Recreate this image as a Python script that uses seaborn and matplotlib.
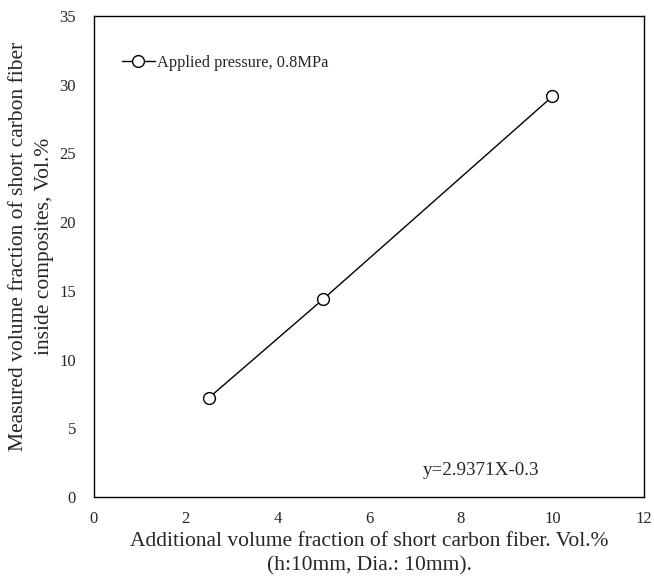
import pandas as pd
import matplotlib
matplotlib.use("Agg")
import matplotlib.pyplot as plt
import seaborn as sns

# datos
fraccion_agregada = [2.5, 5, 10]
fraccion_medida = [7.2, 14.4, 29.15]
etiqueta_serie = "Applied pressure, 0.8MPa"
ecuacion = "y=2.9371X-0.3"
x_ticks = [0, 2, 4, 6, 8, 10, 12]
y_ticks = [0, 5, 10, 15, 20, 25, 30, 35]

df = pd.DataFrame({"x": fraccion_agregada, "y": fraccion_medida,
                   "serie": [etiqueta_serie] * len(fraccion_agregada)})

sns.set_style("white")
plt.rcParams["font.family"] = ["Liberation Serif", "DejaVu Serif"]

fig = plt.figure(figsize=(6.54, 5.83), dpi=100)
ax = fig.add_axes([0.1437, 0.1475, 0.8413, 0.8251])

sns.lineplot(data=df, x="x", y="y", hue="serie", palette=["black"],
             marker="o", markersize=8.5, markerfacecolor="white",
             markeredgecolor="black", markeredgewidth=1, linewidth=1, ax=ax)

ax.set_xlim(0, 12)
ax.set_ylim(0, 35)
ax.set_xticks(x_ticks)
ax.set_yticks(y_ticks)
ax.tick_params(labelsize=12, length=0)
ax.tick_params(axis="x", pad=10)
ax.tick_params(axis="y", pad=13)
for s in ax.spines.values():
    s.set_color("black")
    s.set_linewidth(1)

ax.set_xlabel("Additional volume fraction of short carbon fiber. Vol.%\n(h:10mm, Dia.: 10mm).",
              fontsize=15.5, labelpad=4, linespacing=1.35)
ax.set_ylabel("Measured volume fraction of short carbon fiber\ninside composites, Vol.%",
              fontsize=15.5, labelpad=3, linespacing=1.5)
ax.yaxis.set_label_coords(-0.072, 0.52)

leg = ax.legend(loc="upper left", bbox_to_anchor=(0.024, 0.95), frameon=False,
                fontsize=11.8, handlelength=2.0, handletextpad=0.15, title=None)

ax.text(0.81, 0.037, ecuacion, transform=ax.transAxes, ha="right", va="bottom",
        fontsize=13.7)

fig.savefig("out.png", dpi=100)
